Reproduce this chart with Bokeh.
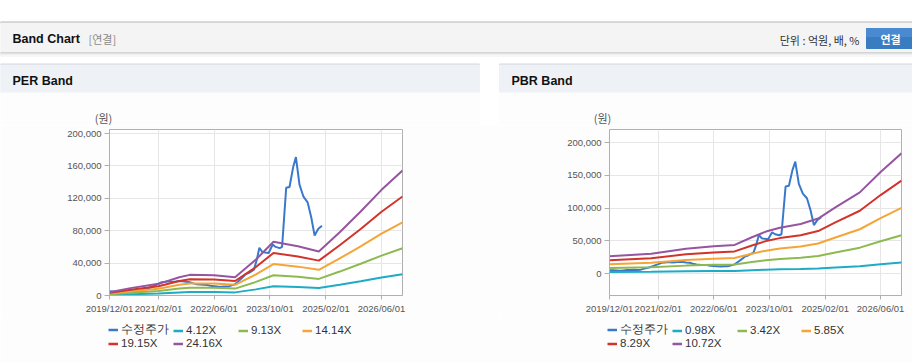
import pandas as pd
from bokeh.plotting import figure
from bokeh.models import (Range1d, FixedTicker, DatetimeTickFormatter,
                          NumeralTickFormatter, Legend, LegendItem)
from bokeh.layouts import column, row
from bokeh.embed import file_html
from bokeh.resources import INLINE
from bokeh.core.properties import value

# ---------------- data ----------------
x_ticks = ["2019-12-01", "2021-02-01", "2022-06-01", "2023-10-01", "2025-02-01", "2026-06-01"]

price_dates = [
    "2019-12-01", "2020-01-01", "2020-02-01", "2020-03-01", "2020-04-01", "2020-05-01",
    "2020-06-01", "2020-07-01", "2020-08-01", "2020-09-01", "2020-10-01", "2020-11-01",
    "2020-12-01", "2021-01-01", "2021-02-01", "2021-03-01", "2021-04-01", "2021-05-01",
    "2021-06-01", "2021-07-01", "2021-08-01", "2021-09-01", "2021-10-01", "2021-11-01",
    "2021-12-01", "2022-01-01", "2022-02-01", "2022-03-01", "2022-04-01", "2022-05-01",
    "2022-06-01", "2022-07-01", "2022-08-01", "2022-09-01", "2022-10-01", "2022-11-01",
    "2022-12-01", "2023-01-01", "2023-02-01", "2023-03-01", "2023-04-01", "2023-05-15",
    "2023-06-10", "2023-07-01", "2023-07-25", "2023-08-20", "2023-09-20", "2023-10-25",
    "2023-11-20", "2023-12-25", "2024-01-15", "2024-02-20", "2024-03-20", "2024-04-20",
    "2024-05-15", "2024-06-15", "2024-07-20", "2024-08-25", "2024-09-25", "2024-10-25",
    "2024-11-25", "2024-12-28"]
price = [
    5200, 5000, 4700, 4200, 4800, 5300,
    5600, 5800, 5500, 6000, 7500, 9000,
    10500, 12500, 14500, 16500, 17000, 17500,
    16800, 17200, 18000, 17500, 17000, 16500,
    15000, 14000, 13500, 13200, 13000, 12000,
    11500, 11000, 10800, 11200, 11000, 12500,
    14000, 18000, 22000, 26000, 28000, 32000,
    45000, 59000, 54000, 53000, 52500, 63000,
    60000, 58500, 60000, 133000, 134000, 158000,
    171000, 137000, 122000, 115000, 97000, 74000,
    82000, 86000]

eps_dates = ["2019-12-01", "2020-06-01", "2021-02-01", "2021-08-01", "2021-11-01",
             "2022-06-01", "2022-12-01", "2023-06-01", "2023-11-01", "2024-06-01",
             "2024-12-01", "2025-06-01", "2025-12-01", "2026-06-01", "2026-12-01"]
eps = [170, 377, 596, 935, 1055, 1039, 935, 1838, 2744, 2521, 2248, 3237, 4292, 5401, 6387]
per_multiples = [4.12, 9.13, 14.14, 19.15, 24.16]
per_labels = ["4.12X", "9.13X", "14.14X", "19.15X", "24.16X"]
per_yticks = [0, 40000, 80000, 120000, 160000, 200000]

bps_dates = ["2019-12-01", "2020-12-01", "2021-10-01", "2022-06-01", "2022-12-01",
             "2023-05-01", "2023-09-01", "2024-01-01", "2024-07-01", "2024-12-01",
             "2025-05-01", "2025-12-01", "2026-06-01", "2026-12-01"]
bps = [2463, 2817, 3545, 3890, 4086, 5177, 5980, 6530, 7071, 7836, 9422, 11567, 14459, 17136]
pbr_multiples = [0.98, 3.42, 5.85, 8.29, 10.72]
pbr_labels = ["0.98X", "3.42X", "5.85X", "8.29X", "10.72X"]
pbr_yticks = [0, 50000, 100000, 150000, 200000]

price_label = "수정주가"
colors = ["#3a78cc", "#1eabc4", "#8cba50", "#f5a537", "#d2332a", "#9655a0"]

FONT = "Liberation Sans"
KFONT = "Noto Sans CJK KR"

HEAD_H = 125     # header strip: page y 0..125
CHART_B = 318    # chart figures: page y 125..318
TOTAL_H = 363    # legend strip: page y 318..363

# ---------------- header ----------------
h = figure(width=912, height=HEAD_H, x_range=Range1d(0, 912), y_range=Range1d(HEAD_H, 0),
           toolbar_location=None, output_backend="svg", x_axis_type=None, y_axis_type=None,
           min_border=0, outline_line_color=None, title=None)
h.grid.visible = False
h.background_fill_color = "#ffffff"
h.border_fill_color = "#ffffff"

h.quad(left=[0], right=[912], top=[21.5], bottom=[22.5], color="#b6b6b6")
h.quad(left=[0], right=[912], top=[22.5], bottom=[52], color="#f4f4f4")
for yy, cc in [(52, "#d4d4d4"), (53, "#e2e2e2"), (54, "#eeeeee"), (55, "#f7f7f7")]:
    h.quad(left=[0], right=[912], top=[yy], bottom=[yy + 1], color=cc)
for lft, rgt in [(0, 479), (499, 912)]:
    h.quad(left=[lft], right=[rgt], top=[63.5], bottom=[64.5], color="#d2d6dc")
    h.quad(left=[lft], right=[rgt], top=[64.5], bottom=[92.5], color="#eef1f6")
    h.quad(left=[lft], right=[rgt], top=[92.5], bottom=[HEAD_H], color="#fdfdfd")
h.quad(left=[866], right=[914], top=[28], bottom=[48], color="#3a7cc0")
h.quad(left=[866], right=[914], top=[28], bottom=[36], color="#4a8ad0")

h.text(x=[12], y=[38], text=["Band Chart"], text_font=value(FONT), text_font_style="bold",
       text_font_size="12.5px", text_baseline="middle", text_color="#111111")
h.text(x=[88], y=[38], text=["[연결]"], text_font=value(KFONT),
       text_font_size="11px", text_baseline="middle", text_color="#8a8a8a")
h.text(x=[859], y=[39], text=["단위 : 억원, 배, %"], text_font=value(KFONT),
       text_font_size="11px", text_baseline="middle", text_align="right", text_color="#333333")
h.text(x=[890], y=[38.5], text=["연결"], text_font=value(KFONT), text_font_style="bold",
       text_font_size="11px", text_baseline="middle", text_align="center", text_color="#ffffff")
h.text(x=[12, 511], y=[80, 80], text=["PER Band", "PBR Band"], text_font=value(FONT),
       text_font_style="bold", text_font_size="12.5px", text_baseline="middle",
       text_color="#111111")
h.text(x=[103, 602], y=[117, 117], text=["(원)", "(원)"], text_font=value(KFONT),
       text_font_size="11px", text_baseline="middle", text_align="center", text_color="#555555")


# ---------------- charts ----------------
def band_chart(width, bl, br, yr, yticks, bdates, base, mults):
    p = figure(width=width, height=CHART_B - HEAD_H, x_axis_type="datetime",
               x_range=Range1d(pd.Timestamp("2019-12-01"), pd.Timestamp("2026-12-01")),
               y_range=Range1d(*yr), toolbar_location=None, output_backend="svg",
               min_border_left=bl, min_border_right=br, min_border_top=4,
               min_border_bottom=CHART_B - 295, title=None)
    p.background_fill_color = "#ffffff"
    p.border_fill_color = "#fdfdfd"
    p.outline_line_color = "#b0b0b0"

    p.line(pd.to_datetime(price_dates), price, line_color=colors[0], line_width=2)
    bd = pd.to_datetime(bdates)
    for k, m in enumerate(mults):
        vals = [m * b for b in base]
        p.line(bd, vals, line_color=colors[k + 1], line_width=2)

    ticks = [pd.Timestamp(t).value // 10**6 for t in x_ticks]
    p.xaxis.ticker = FixedTicker(ticks=ticks)
    fmt = "%Y/%m/%d"
    p.xaxis.formatter = DatetimeTickFormatter(years=fmt, months=fmt, days=fmt, hours=fmt,
                                              hourmin=fmt, minutes=fmt, minsec=fmt,
                                              seconds=fmt, milliseconds=fmt, microseconds=fmt)
    p.yaxis.ticker = FixedTicker(ticks=yticks)
    p.yaxis.formatter = NumeralTickFormatter(format="0,0")
    for ax in (p.xaxis[0], p.yaxis[0]):
        ax.axis_line_color = "#b0b0b0"
        ax.major_tick_line_color = "#b0b0b0"
        ax.minor_tick_line_color = None
        ax.major_tick_in = 0
        ax.major_tick_out = 5
        ax.major_label_text_font = FONT
        ax.major_label_text_font_size = "9.5px"
        ax.major_label_text_color = "#555555"
        ax.major_label_standoff = 3
    p.xaxis.major_tick_out = 4
    p.grid.grid_line_color = "#e6e6e6"
    return p


def legend_strip(width, labels):
    lg = figure(width=width, height=TOTAL_H - CHART_B, x_range=Range1d(0, 1),
                y_range=Range1d(0, 1), toolbar_location=None, output_backend="svg",
                x_axis_type=None, y_axis_type=None, min_border=0,
                outline_line_color=None, title=None)
    lg.grid.visible = False
    lg.background_fill_color = "#fdfdfd"
    lg.border_fill_color = "#fdfdfd"
    # key glyphs: lines kept outside the visible range, used only as legend swatches
    rends = [lg.line([-5, -4], [-5, -4], line_color=c, line_width=2.5) for c in colors]
    all_labels = [price_label] + labels
    cols = [[0, 4], [1, 5], [2], [3]]
    xoffs = [108, 173, 238, 302]
    for ci, idxs in enumerate(cols):
        items = [LegendItem(label=all_labels[i], renderers=[rends[i]]) for i in idxs]
        n = len(idxs)
        ybot = 13.5 + (2 - n) * 13
        leg = Legend(items=items, location=(xoffs[ci], ybot), orientation="vertical",
                     glyph_width=10, glyph_height=13, label_height=13, label_standoff=3,
                     spacing=0, padding=0, margin=0, border_line_color=None,
                     background_fill_alpha=0, label_text_font=FONT,
                     label_text_font_size="11.5px", label_text_color="#333333")
        lg.add_layout(leg, "center")
    return lg


p1 = band_chart(499, 109, 97, (0, 205000), per_yticks, eps_dates, eps, per_multiples)
p2 = band_chart(413, 110, 11, (-33500, 220000), pbr_yticks, bps_dates, bps, pbr_multiples)
l1 = legend_strip(499, per_labels)
l2 = legend_strip(413, pbr_labels)

layout = column(h, row(p1, p2, spacing=0), row(l1, l2, spacing=0), spacing=0)
open("out.html", "w").write(file_html(layout, INLINE))
